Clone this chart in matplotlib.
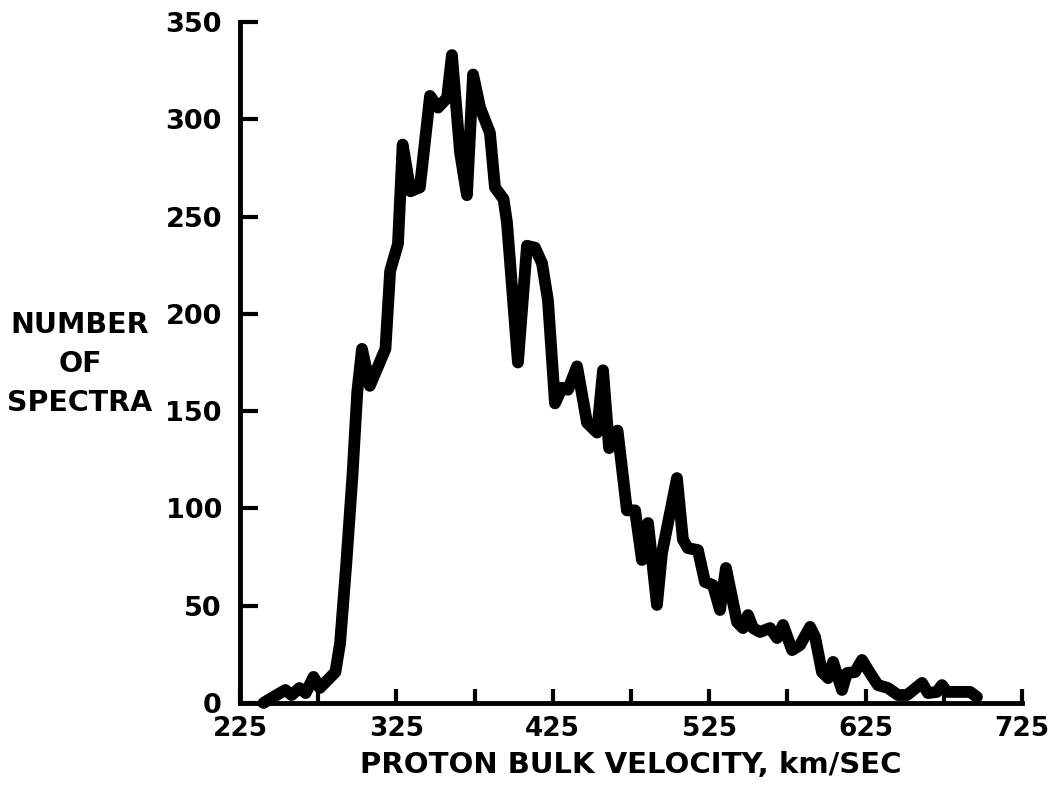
import matplotlib
matplotlib.use("Agg")
import matplotlib.pyplot as plt

# Proton bulk velocity (km/s) and number of spectra
velocity = [240, 243, 254, 258, 263, 267, 272, 276, 286, 289, 293, 297, 300, 303,
            308, 318, 321, 326, 329, 334, 340, 346.5, 351.6, 357.4, 360.5, 365.7,
            370.1, 374.0, 378.5, 384.8, 388.0, 393.5, 395.7, 402.7, 408.5, 413.6,
            418.1, 421.9, 426.4, 430.9, 434.7, 440.5, 446.9, 453.3, 457.1, 461.0,
            466.4, 472.4, 477.6, 482.0, 485.9, 491.6, 494.8, 504.4, 508.2, 511.4,
            517.8, 522.3, 527.4, 531.9, 535.7, 542.8, 546.6, 549.8, 553.0, 557.5,
            563.9, 568.4, 572.2, 578.0, 583.1, 589.5, 592.7, 597.1, 601.0, 604.2,
            609.9, 613.1, 618.2, 622.7, 627.8, 632.9, 639.3, 645.7, 651.5, 661.1,
            664.9, 670.6, 673.8, 677.0, 685.4, 691.8, 696.2]
spectra = [0, 1.5, 6.7, 4.1, 7.7, 5.1, 13.4, 7.7, 15.9, 30.8, 72, 118, 160, 182,
           163, 182, 222, 236, 287, 263, 265, 312, 306, 311, 333, 283,
           261, 323, 306, 293, 265, 259, 247, 175, 235, 234,
           226, 207, 154, 162, 161, 173, 144, 139, 171, 131,
           140, 99, 99, 73.5, 92.5, 50.4, 77, 115.6, 84, 79.6,
           78.6, 62.2, 60.6, 47.8, 69.4, 41.6, 38.5, 45.2, 38.5, 36.5,
           38.5, 33.4, 40.1, 27.2, 29.8, 39.1, 33.9, 15.9, 12.8, 21.1,
           6.7, 15.4, 15.9, 22.1, 15.4, 9.2, 7.7, 4.1, 4.1, 10.3,
           5.1, 5.7, 9.2, 5.7, 5.7, 5.7, 3.1]

x_ticks = [225, 275, 325, 375, 425, 475, 525, 575, 625, 675, 725]
x_tick_labels = ["225", "", "325", "", "425", "", "525", "", "625", "", "725"]
y_ticks = [0, 50, 100, 150, 200, 250, 300, 350]
y_tick_labels = ["0", "50", "100", "150", "200", "250", "300", "350"]

fig = plt.figure(figsize=(10.58, 7.86), dpi=100)
ax = fig.add_axes([240 / 1058, 83 / 786, 782 / 1058, 681 / 786])

ax.plot(velocity, spectra, color="black", linewidth=8.5,
        solid_joinstyle="round", solid_capstyle="round", clip_on=False)

ax.set_xlim(225, 725)
ax.set_ylim(0, 350)

for side in ("top", "right"):
    ax.spines[side].set_visible(False)
for side in ("left", "bottom"):
    ax.spines[side].set_linewidth(3.5)
    ax.spines[side].set_capstyle("projecting")

ax.set_xticks(x_ticks)
ax.set_xticklabels(x_tick_labels)
ax.set_yticks(y_ticks)
ax.set_yticklabels(y_tick_labels)

ax.tick_params(axis="y", direction="in", length=13, width=3, pad=13)
ax.tick_params(axis="x", direction="in", length=10, width=3, pad=9)

for lab in ax.get_yticklabels():
    lab.set_fontfamily("DejaVu Sans")
    lab.set_fontweight("bold")
    lab.set_fontsize(19.5)
for lab in ax.get_xticklabels():
    lab.set_fontfamily("DejaVu Sans")
    lab.set_fontweight("bold")
    lab.set_fontsize(19)

fig.text(631 / 1058, 1 - 765 / 786, "PROTON BULK VELOCITY, km/SEC",
         ha="center", va="center", fontsize=21, fontweight="bold",
         family="DejaVu Sans")
fig.text(80 / 1058, 1 - 364 / 786, "NUMBER\nOF\nSPECTRA",
         ha="center", va="center", multialignment="center",
         fontsize=20.5, fontweight="bold", family="DejaVu Sans",
         linespacing=1.5)

fig.savefig("out.png", dpi=100, facecolor="white")
